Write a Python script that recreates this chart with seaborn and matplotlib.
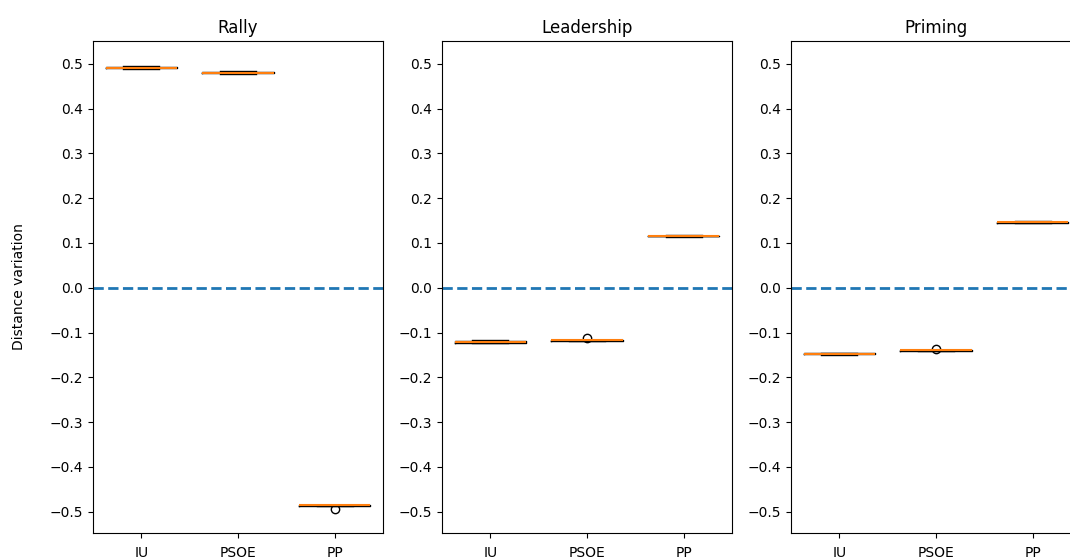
import numpy as np
import pandas as pd
import matplotlib
matplotlib.use('Agg')
import matplotlib.pyplot as plt
import seaborn as sns

partidos = ['IU', 'PSOE', 'PP']
escenarios = ['Rally', 'Leadership', 'Priming']

# Variaciones de distancia
rally_iu = [0.489, 0.490, 0.491, 0.491, 0.492, 0.493, 0.494, 0.495]
rally_psoe = [0.478, 0.479, 0.480, 0.480, 0.481, 0.481, 0.482, 0.483]
rally_pp = [-0.488, -0.487, -0.486, -0.486, -0.486, -0.485, -0.485, -0.495]

leadership_iu = [-0.124, -0.123, -0.122, -0.121, -0.120, -0.119, -0.118, -0.117]
leadership_psoe = [-0.119, -0.118, -0.118, -0.117, -0.117, -0.117, -0.116, -0.112]
leadership_pp = [0.113, 0.114, 0.115, 0.115, 0.116, 0.116, 0.117, 0.118]

priming_iu = [-0.150, -0.149, -0.148, -0.147, -0.147, -0.146, -0.146, -0.145]
priming_psoe = [-0.142, -0.141, -0.140, -0.140, -0.139, -0.139, -0.138, -0.136]
priming_pp = [0.144, 0.145, 0.145, 0.146, 0.146, 0.147, 0.147, 0.148]

datos = {
    'Rally': [rally_iu, rally_psoe, rally_pp],
    'Leadership': [leadership_iu, leadership_psoe, leadership_pp],
    'Priming': [priming_iu, priming_psoe, priming_pp],
}

# Paso todo a formato largo
filas = []
for esc in escenarios:
    for partido, valores in zip(partidos, datos[esc]):
        for v in valores:
            filas.append({'escenario': esc, 'partido': partido, 'variacion': v})
df = pd.DataFrame(filas)

fig = plt.figure(figsize=(10.7, 5.59), dpi=100)

# Posiciones de los ejes (el tercero queda cortado a la derecha, como en el original)
izquierdas = [0.0869, 0.4131, 0.7393]
ancho = 0.271
abajo = 0.0465
alto = 0.880

for i, esc in enumerate(escenarios):
    ax = fig.add_axes([izquierdas[i], abajo, ancho, alto])
    sns.boxplot(data=df[df['escenario'] == esc], x='partido', y='variacion',
                order=partidos, ax=ax, fill=False, color='black', width=0.74,
                linewidth=1,
                medianprops={'color': '#ff7f0e', 'linewidth': 1.5},
                flierprops={'marker': 'o', 'markerfacecolor': 'none',
                            'markeredgecolor': 'black', 'markersize': 6})
    ax.axhline(0, color='#1f77b4', linestyle='--', linewidth=2)
    ax.set_title(esc)
    ax.set_xlabel('')
    if i == 0:
        ax.set_ylabel('Distance variation', labelpad=17)
    else:
        ax.set_ylabel('')
    ax.set_ylim(-0.5475, 0.5507)
    ax.set_xlim(-0.5, 2.5)
    ax.set_yticks(np.arange(-0.5, 0.51, 0.1))
    ax.tick_params(axis='x', pad=5.5)

fig.savefig('out.png', dpi=100)
